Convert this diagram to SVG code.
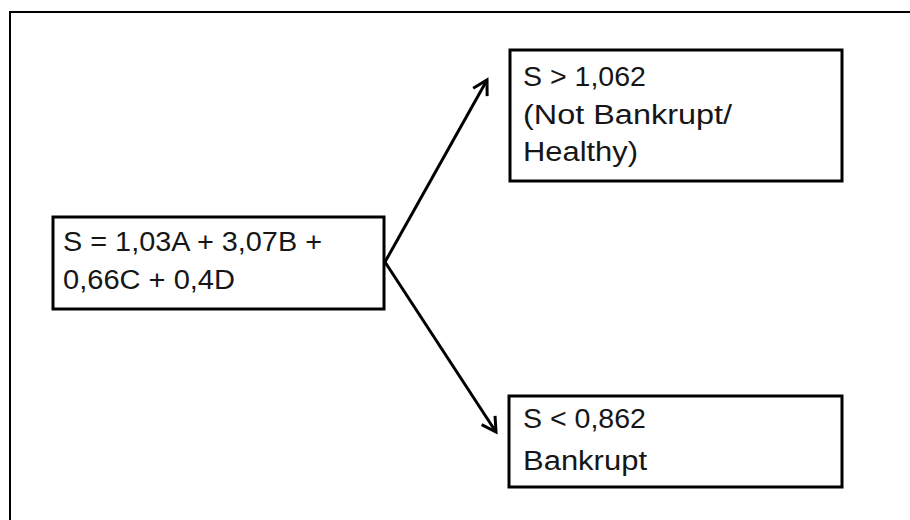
<svg xmlns="http://www.w3.org/2000/svg" width="910" height="520" viewBox="0 0 910 520">
  <style>
    .box { fill: #ffffff; stroke: #000000; stroke-width: 3; }
    .lbl { font-family: "Liberation Sans", Arial, sans-serif; font-size: 27px; fill: #161616; }
    .conn { fill: none; stroke: #000000; stroke-width: 3; }
  </style>
  <defs>
    <marker id="arr" viewBox="0 0 20 20" refX="17" refY="10" markerWidth="20" markerHeight="20" markerUnits="userSpaceOnUse" orient="auto">
      <path d="M3,2 L17,10 L3,18" fill="none" stroke="#000000" stroke-width="3"/>
    </marker>
  </defs>
  <rect x="0" y="0" width="910" height="520" fill="#ffffff"/>
  <rect x="10" y="12" width="920" height="530" fill="none" stroke="#000000" stroke-width="2"/>

  <g id="connectors">
    <line class="conn" x1="385" y1="262" x2="487" y2="80" marker-end="url(#arr)"/>
    <line class="conn" x1="385" y1="262" x2="496" y2="432" marker-end="url(#arr)"/>
  </g>

  <g id="formula">
    <rect class="box" x="53" y="217" width="331" height="92"/>
    <text class="lbl" x="63" y="251" textLength="259" lengthAdjust="spacingAndGlyphs">S = 1,03A + 3,07B +</text>
    <text class="lbl" x="63" y="289" textLength="172" lengthAdjust="spacingAndGlyphs">0,66C + 0,4D</text>
  </g>

  <g id="healthy">
    <rect class="box" x="510" y="50" width="332" height="131"/>
    <text class="lbl" x="523" y="86" textLength="123" lengthAdjust="spacingAndGlyphs">S &gt; 1,062</text>
    <text class="lbl" x="523" y="124" textLength="209" lengthAdjust="spacingAndGlyphs">(Not Bankrupt/</text>
    <text class="lbl" x="523" y="161" textLength="115" lengthAdjust="spacingAndGlyphs">Healthy)</text>
  </g>

  <g id="bankrupt">
    <rect class="box" x="509" y="396" width="333" height="91"/>
    <text class="lbl" x="523" y="428" textLength="123" lengthAdjust="spacingAndGlyphs">S &lt; 0,862</text>
    <text class="lbl" x="523" y="470" textLength="124" lengthAdjust="spacingAndGlyphs">Bankrupt</text>
  </g>
</svg>
